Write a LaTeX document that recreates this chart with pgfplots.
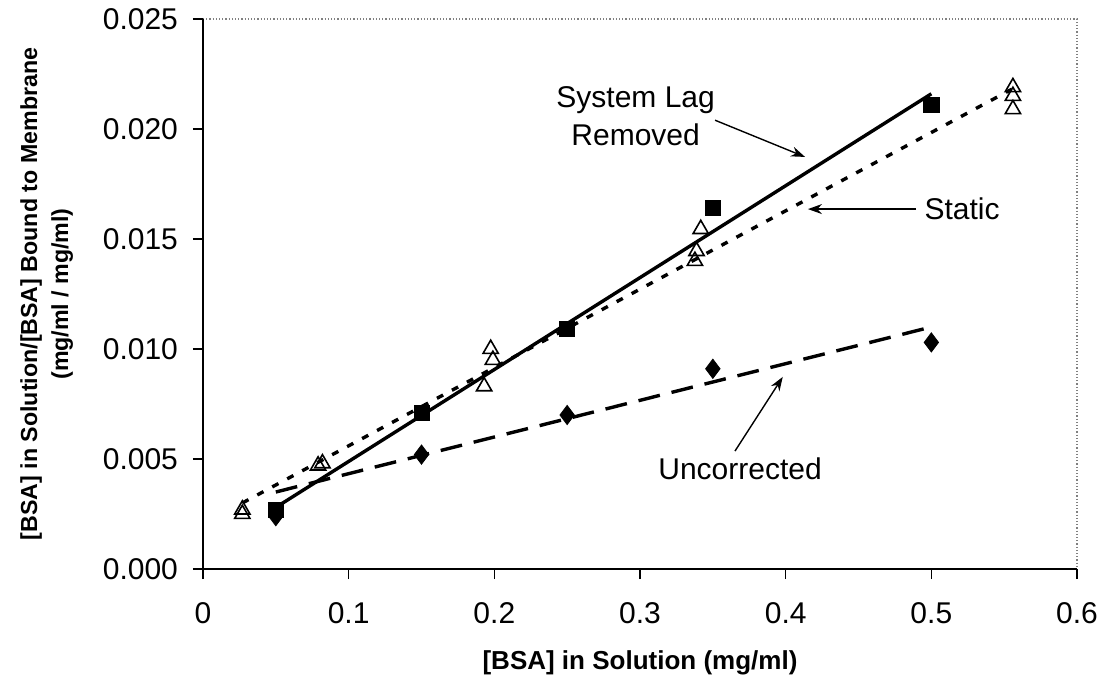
\documentclass[border=0pt]{standalone}
\usepackage{pgfplots}
\pgfplotsset{compat=1.18}
\usepackage{fontspec}
\setmainfont{Liberation Sans}
\usetikzlibrary{arrows.meta}
\begin{document}
\begin{tikzpicture}
\begin{axis}[
  scale only axis, width=437pt, height=275pt,
  xmin=0, xmax=0.6, ymin=0, ymax=0.025,
  xtick={0,0.1,0.2,0.3,0.4,0.5,0.6},
  ytick={0,0.005,0.01,0.015,0.02,0.025},
  xtick pos=left, ytick pos=left,
  tick align=outside, major tick length=5pt,
  tick style={black, line width=0.6pt},
  axis line style={draw=none},
  scaled ticks=false,
  /pgf/number format/assume math mode=true,
  xticklabel style={font=\fontsize{15}{18}\selectfont, yshift=-8pt},
  x tick label style={/pgf/number format/.cd, fixed, precision=1},
  yticklabel style={font=\fontsize{15}{18}\selectfont, xshift=-4pt},
  y tick label style={/pgf/number format/.cd, fixed, fixed zerofill, precision=3},
  xlabel={[BSA] in Solution (mg/ml)},
  ylabel={[BSA] in Solution/[BSA] Bound to Membrane\\(mg/ml / mg/ml)},
  xlabel style={font=\fontsize{13}{15}\selectfont\bfseries, yshift=-7pt},
  ylabel style={font=\fontsize{11.6}{15.5}\selectfont\bfseries, align=center, yshift=8pt},
  clip=false,
]
\draw[gray, densely dotted, line width=0.6pt] (rel axis cs:0,1) -- (rel axis cs:1,1) -- (rel axis cs:1,0);
\draw[black, line width=0.6pt] (rel axis cs:0,1) -- (rel axis cs:0,0) -- (rel axis cs:1,0);

% fitted lines
\addplot[black, line width=1.7pt, no markers] coordinates {(0.05,0.0028) (0.5,0.0216)};
\addplot[black, line width=1.7pt, no markers, dash pattern=on 3.5pt off 5pt] coordinates {(0.027,0.0030) (0.555,0.0218)};
\addplot[black, line width=1.7pt, no markers, dash pattern=on 11pt off 6pt] coordinates {(0.05,0.0035) (0.5,0.0110)};

% System Lag Removed
\addplot[only marks, mark=square*, mark size=3.8pt, black] coordinates {
(0.05,0.0027) (0.15,0.0071) (0.25,0.0109) (0.35,0.0164) (0.5,0.0211)};
% Uncorrected
\addplot[only marks, mark=diamond*, mark size=4.8pt, black] coordinates {
(0.05,0.0024) (0.15,0.0052) (0.25,0.0070) (0.35,0.0091) (0.5,0.0103)};
% Static
\addplot[only marks, mark=triangle, mark size=4.4pt, black, mark options={line width=0.8pt, fill=white}] coordinates {
(0.027,0.0025) (0.027,0.0027) (0.079,0.0047) (0.082,0.0048)
(0.193,0.0083) (0.199,0.0095) (0.1975,0.0100)
(0.3377,0.0140) (0.3388,0.01445) (0.3417,0.01545)
(0.556,0.0209) (0.556,0.0215) (0.556,0.0219)};

% annotations
\node[font=\fontsize{15}{19}\selectfont, align=center] at (axis cs:0.297,0.0206) {System Lag\\Removed};
\draw[-{Stealth[length=7pt,width=5pt]}, line width=0.7pt] (axis cs:0.3515,0.0204) -- (axis cs:0.4133,0.01873);
\node[font=\fontsize{15}{19}\selectfont, anchor=west] at (axis cs:0.4905,0.01636) {Static};
\draw[-{Stealth[length=7pt,width=5pt]}, line width=0.7pt] (axis cs:0.4895,0.01636) -- (axis cs:0.4153,0.01636);
\node[font=\fontsize{15}{19}\selectfont] at (axis cs:0.3687,0.00455) {Uncorrected};
\draw[-{Stealth[length=7pt,width=5pt]}, line width=0.7pt] (axis cs:0.3652,0.00536) -- (axis cs:0.398,0.00873);
\end{axis}
\path (current axis.south west) ++(-101.5pt,-57.5pt);
\path (current axis.north east) ++(17pt,9.5pt);
\end{tikzpicture}
\end{document}
